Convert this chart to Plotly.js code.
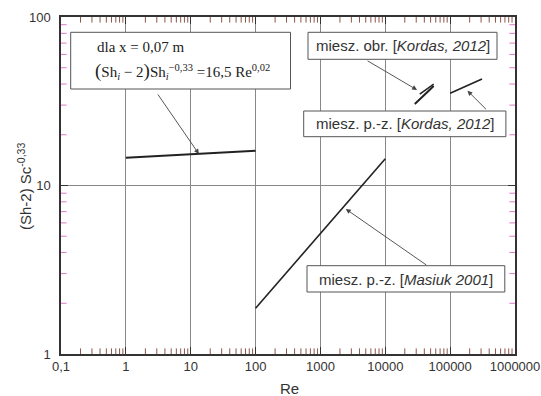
<!DOCTYPE html>
<html>
<head>
<meta charset="utf-8">
<script src="https://cdn.plot.ly/plotly-3.0.1.min.js"></script>
<style>html,body{margin:0;padding:0;background:#fff}#chart{width:541px;height:396px}</style>
</head>
<body>
<div id="chart"></div>
<script>
// Data
const line1Re = [1, 100];
const line1Val = [14.6, 16.1];           // dla x = 0,07 m
const masiukRe = [100, 10000];
const masiukVal = [1.87, 14.4];          // miesz. p.-z. [Masiuk 2001]
const kordasObrARe = [28500, 55800];
const kordasObrAVal = [30.5, 38.9];      // miesz. obr. [Kordas, 2012]
const kordasObrBRe = [34000, 55800];
const kordasObrBVal = [34.9, 40.0];
const kordasPzRe = [100000, 310000];
const kordasPzVal = [35.3, 42.9];        // miesz. p.-z. [Kordas, 2012]

// axis ranges (log10 of Re and of the y quantity); labels: 0,1 1 10 ... 1000000 / 1 10 100
const xRangeLog = [-1, 6];
const yRangeLog = [0, 2];

// minor tick positions (2..9 in every decade), used for the inside tick marks
const xMinor = [];
for (let e = xRangeLog[0]; e < xRangeLog[1]; e++) for (let d = 2; d <= 9; d++) xMinor.push(d * Math.pow(10, e));
const yMinor = [];
for (let e = yRangeLog[0]; e < yRangeLog[1]; e++) for (let d = 2; d <= 9; d++) yMinor.push(d * Math.pow(10, e));
const xLo = Math.pow(10, xRangeLog[0]), xHi = Math.pow(10, xRangeLog[1]);
const yLo = Math.pow(10, yRangeLog[0]), yHi = Math.pow(10, yRangeLog[1]);

const lineStyle = {color: '#222', width: 2};
const tickMarkX = {symbol: 'line-ns-open', size: 8, line: {color: '#333', width: 1}};
const tickMarkY = {symbol: 'line-ew-open', size: 8, line: {color: '#333', width: 1}};
const traces = [
  {x: line1Re, y: line1Val, mode: 'lines', line: lineStyle},
  {x: masiukRe, y: masiukVal, mode: 'lines', line: {color: '#222', width: 1.6}},
  {x: kordasObrARe, y: kordasObrAVal, mode: 'lines', line: lineStyle},
  {x: kordasObrBRe, y: kordasObrBVal, mode: 'lines', line: {color: '#222', width: 1.5}},
  {x: kordasPzRe, y: kordasPzVal, mode: 'lines', line: {color: '#222', width: 1.6}},
  // minor tick marks (clipped to the plot area so only the inside half shows)
  {x: xMinor.concat(xMinor), y: xMinor.map(() => yLo).concat(xMinor.map(() => yHi)),
    mode: 'markers', marker: tickMarkX, cliponaxis: true, hoverinfo: 'skip'},
  {x: yMinor.map(() => xLo).concat(yMinor.map(() => xHi)), y: yMinor.concat(yMinor),
    mode: 'markers', marker: tickMarkY, cliponaxis: true, hoverinfo: 'skip'}
];

// helpers: pixel -> paper
const L = 61, R = 515, T = 17, B = 354;
const px = v => (v - L) / (R - L);
const py = v => (B - v) / (B - T);
function box(x0, y0, x1, y1) {
  return {type: 'rect', xref: 'paper', yref: 'paper', x0: px(x0), x1: px(x1), y0: py(y1), y1: py(y0),
    fillcolor: '#fff', line: {color: '#555', width: 1}, layer: 'above'};
}
const sansFont = {family: 'Liberation Sans, Arial, sans-serif', size: 15, color: '#333'};
const serifFont = {family: 'Liberation Serif, Times New Roman, serif', size: 15, color: '#222'};

function arrow(xLog, yLog, ax, ay) {
  return {x: xLog, y: yLog, xref: 'x', yref: 'y', ax: ax, ay: ay, axref: 'pixel', ayref: 'pixel',
    text: '', showarrow: true, arrowhead: 2, arrowsize: 1.1, arrowwidth: 0.9, arrowcolor: '#444'};
}

const annotations = [
  {xref: 'paper', yref: 'paper', x: px(95), y: py(47.5), xanchor: 'left', yanchor: 'middle',
    text: 'dla x = 0,07 m', showarrow: false, font: serifFont},
  {xref: 'paper', yref: 'paper', x: px(93), y: py(71), xanchor: 'left', yanchor: 'middle',
    text: '<span style="font-size:19px">(</span>Sh<sub><i>i</i></sub> − 2<span style="font-size:19px">)</span>Sh<sub><i>i</i></sub><sup>−0,33</sup> =16,5 Re<sup>0,02</sup>',
    showarrow: false, font: serifFont},
  {xref: 'paper', yref: 'paper', x: px(403), y: py(46), xanchor: 'center', yanchor: 'middle',
    text: 'miesz. obr. [<i>Kordas, 2012</i>]', showarrow: false, font: sansFont},
  {xref: 'paper', yref: 'paper', x: px(405), y: py(124), xanchor: 'center', yanchor: 'middle',
    text: 'miesz. p.-z. [<i>Kordas, 2012</i>]', showarrow: false, font: sansFont},
  {xref: 'paper', yref: 'paper', x: px(406), y: py(279), xanchor: 'center', yanchor: 'middle',
    text: 'miesz. p.-z. [<i>Masiuk 2001</i>]', showarrow: false, font: sansFont},
  // axis titles
  {xref: 'paper', yref: 'paper', x: px(24), y: py(187), xanchor: 'center', yanchor: 'middle', textangle: -90,
    text: '(Sh-2) Sc<sup>-0,33</sup>', showarrow: false,
    font: {family: 'Liberation Sans, Arial, sans-serif', size: 15, color: '#333'}},
  {xref: 'paper', yref: 'paper', x: px(289), y: py(388), xanchor: 'center', yanchor: 'middle',
    text: 'Re', showarrow: false,
    font: {family: 'Liberation Sans, Arial, sans-serif', size: 15, color: '#333'}},
  arrow(1.126, 1.187, -42, -61),
  arrow(3.391, 0.8605, 82, 57),
  arrow(5.267, 1.5626, 20, 20),
  arrow(4.49, 1.567, -51, -30)
];

const shapes = [
  box(70.7, 32.3, 290.5, 89),
  box(308, 32.3, 497, 59.3),
  box(303.7, 111, 505.9, 136.7),
  box(307, 265.7, 504.8, 292)
];

const axisCommon = {
  type: 'log', autorange: false, showline: true, linecolor: '#333', linewidth: 1.5, mirror: 'allticks',
  tickmode: 'linear', tick0: 0, dtick: 1, exponentformat: 'none',
  ticks: 'inside', ticklen: 7, tickcolor: '#333', tickwidth: 1.2,
  showgrid: true, gridcolor: '#888', gridwidth: 1, zeroline: false,
  tickfont: {family: 'Liberation Sans, Arial, sans-serif', size: 13, color: '#333'}
};

const layout = {
  width: 541, height: 396,
  margin: {l: 61, r: 26, t: 17, b: 42},
  separators: ',',
  paper_bgcolor: '#fff', plot_bgcolor: '#fff',
  showlegend: false,
  xaxis: Object.assign({}, axisCommon, {range: xRangeLog}),
  yaxis: Object.assign({}, axisCommon, {range: yRangeLog, ticklabelstandoff: 6}),
  shapes: shapes,
  annotations: annotations
};

Plotly.newPlot('chart', traces, layout, {displayModeBar: false});
</script>
</body>
</html>
